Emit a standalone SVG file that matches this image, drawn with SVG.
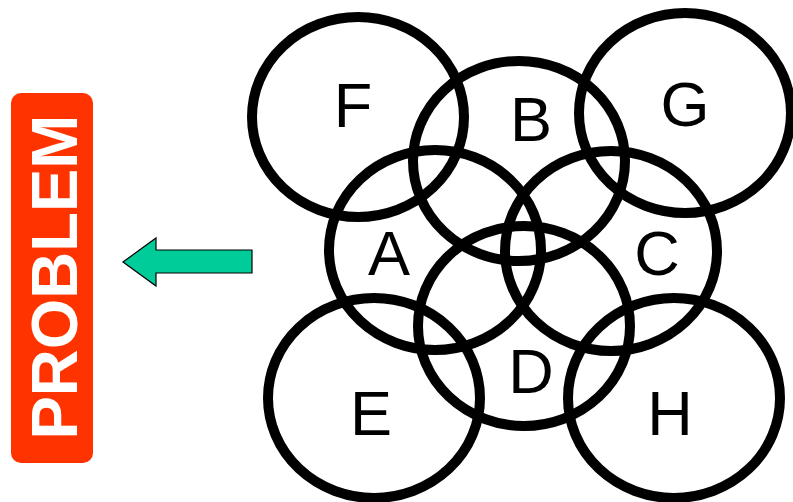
<svg xmlns="http://www.w3.org/2000/svg" width="793" height="502" viewBox="0 0 793 502">
<style>
.ring{fill:none;stroke:#000;stroke-width:10}
.lbl{font-family:"Liberation Sans",Arial,sans-serif;font-size:63px;fill:#000;text-anchor:middle}
.prob{font-family:"Liberation Sans",Arial,sans-serif;font-size:65px;font-weight:bold;fill:#fff;text-anchor:middle}
</style>
<rect width="793" height="502" fill="#fff"/>
<g id="problem">
<rect x="11" y="93" width="82" height="370" rx="10" ry="10" fill="#FF3300"/>
<text class="prob" transform="translate(77,277) rotate(-90)">PROBLEM</text>
</g>
<g id="connectors">
<polygon points="123,262 156,238 156,250 252,250 252,273 156,273 156,286" fill="#00CC99" stroke="#000" stroke-width="1.2"/>
</g>
<g id="node-F"><ellipse class="ring" cx="358" cy="117" rx="106" ry="100"/><text class="lbl" x="353" y="127">F</text></g>
<g id="node-B"><ellipse class="ring" cx="519" cy="161" rx="106" ry="100"/><text class="lbl" x="531" y="141">B</text></g>
<g id="node-G"><ellipse class="ring" cx="685" cy="113" rx="106" ry="100"/><text class="lbl" x="685" y="126">G</text></g>
<g id="node-A"><ellipse class="ring" cx="435" cy="250" rx="106" ry="100"/><text class="lbl" x="389" y="275">A</text></g>
<g id="node-C"><ellipse class="ring" cx="611" cy="251" rx="106" ry="100"/><text class="lbl" x="657" y="275">C</text></g>
<g id="node-D"><ellipse class="ring" cx="524" cy="326" rx="106" ry="100"/><text class="lbl" x="531" y="393">D</text></g>
<g id="node-E"><ellipse class="ring" cx="374" cy="398" rx="106" ry="100"/><text class="lbl" x="371" y="435">E</text></g>
<g id="node-H"><ellipse class="ring" cx="674" cy="398" rx="106" ry="100"/><text class="lbl" x="670" y="435">H</text></g>
</svg>
